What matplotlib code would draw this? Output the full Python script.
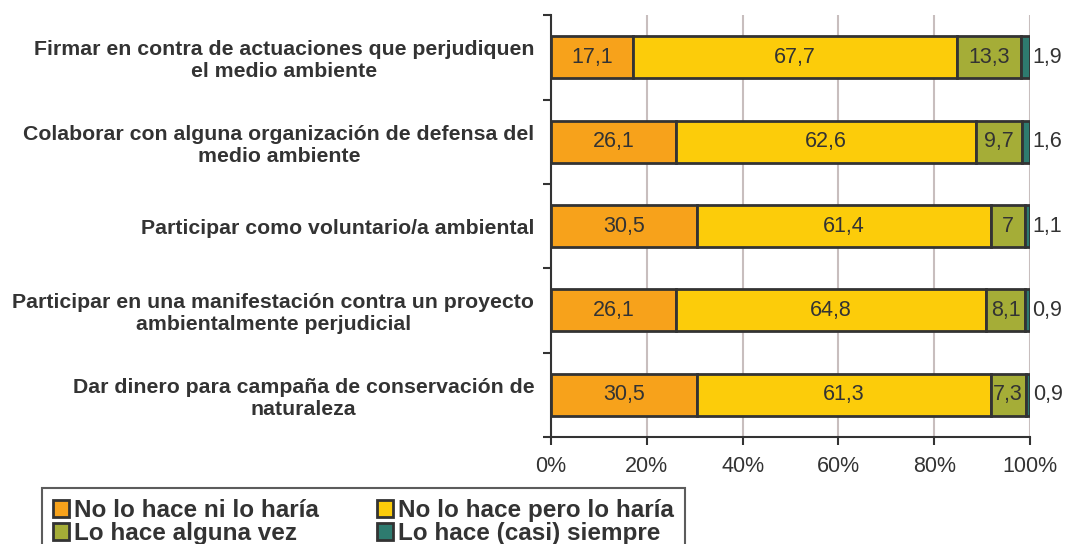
import numpy as np
import matplotlib.pyplot as plt
from matplotlib.patches import Patch

# Datos
categorias = [
    "Firmar en contra de actuaciones que perjudiquen\nel medio ambiente",
    "Colaborar con alguna organización de defensa del\nmedio ambiente",
    "Participar como voluntario/a ambiental",
    "Participar en una manifestación contra un proyecto\nambientalmente perjudicial",
    "Dar dinero para campaña de conservación de\nnaturaleza",
]
series = ["No lo hace ni lo haría", "No lo hace pero lo haría",
          "Lo hace alguna vez", "Lo hace (casi) siempre"]
no_nunca = [17.1, 26.1, 30.5, 26.1, 30.5]
no_pero_si = [67.7, 62.6, 61.4, 64.8, 61.3]
alguna_vez = [13.3, 9.7, 7.0, 8.1, 7.3]
siempre = [1.9, 1.6, 1.1, 0.9, 0.9]
etiquetas_x = ["0%", "20%", "40%", "60%", "80%", "100%"]

colores = ["#F7A21B", "#FCCC0A", "#A5AD37", "#2E7B6F"]
borde = "#333333"
texto = "#333333"

plt.rcParams['font.family'] = ['Liberation Sans', 'DejaVu Sans']

fig = plt.figure(figsize=(10.71, 5.44), dpi=100)
ax = fig.add_axes([0.5145, 0.197, 0.4472, 0.775])

y = np.arange(len(categorias))
valores = [no_nunca, no_pero_si, alguna_vez, siempre]
izq = np.zeros(len(categorias))
for k, (vals, col) in enumerate(zip(valores, colores)):
    vals = np.array(vals)
    ax.barh(y, vals, left=izq, height=0.5, color=col, edgecolor=borde,
            linewidth=2, zorder=3)
    for i, v in enumerate(vals):
        txt = ("%g" % v).replace(".", ",")
        if k < 3:
            ax.text(izq[i] + v / 2, y[i], txt, ha='center', va='center',
                    fontsize=15.5, color=texto, zorder=4)
        else:
            ax.text(izq[i] + v + 0.6, y[i], txt, ha='left', va='center',
                    fontsize=15.5, color=texto, zorder=4)
    izq += vals

ax.set_xlim(0, 100)
ax.set_ylim(len(categorias) - 0.5, -0.5)
ax.set_xticks(np.arange(0, 101, 20))
ax.set_xticklabels(etiquetas_x, fontsize=15.5, color=texto)
ax.set_yticks(y)
ax.set_yticklabels(categorias, fontsize=15.3, fontweight='bold', color=texto,
                   multialignment='center')
ax.tick_params(axis='y', length=0, pad=12)
ax.set_yticks(np.arange(-0.5, len(categorias)), minor=True)
ax.tick_params(axis='y', which='minor', length=6, width=1.5, color=borde,
               direction='out')
ax.tick_params(axis='x', length=6, width=1.5, color=borde, direction='out',
               pad=8)

ax.grid(axis='x', color='#C8BEBE', linewidth=1.5, zorder=0)
for s in ['top', 'right']:
    ax.spines[s].set_visible(False)
for s in ['left', 'bottom']:
    ax.spines[s].set_color(borde)
    ax.spines[s].set_linewidth(1.5)

# Orden por filas en la leyenda
orden = [0, 2, 1, 3]
handles = [Patch(facecolor=colores[j], edgecolor=borde, linewidth=2) for j in orden]
nombres = [series[j] for j in orden]
leg = fig.legend(handles, nombres, loc='upper left', bbox_to_anchor=(0.039, 0.103),
                 borderaxespad=0, ncol=2, frameon=True, fancybox=False,
                 edgecolor=borde, prop={'weight': 'bold', 'size': 17.5},
                 handlelength=0.66, handleheight=0.66, handletextpad=0.2,
                 columnspacing=2.4, labelspacing=0.0, borderpad=0.45,
                 labelcolor=texto)
leg.get_frame().set_linewidth(1.5)

fig.savefig("out.png", dpi=100)
